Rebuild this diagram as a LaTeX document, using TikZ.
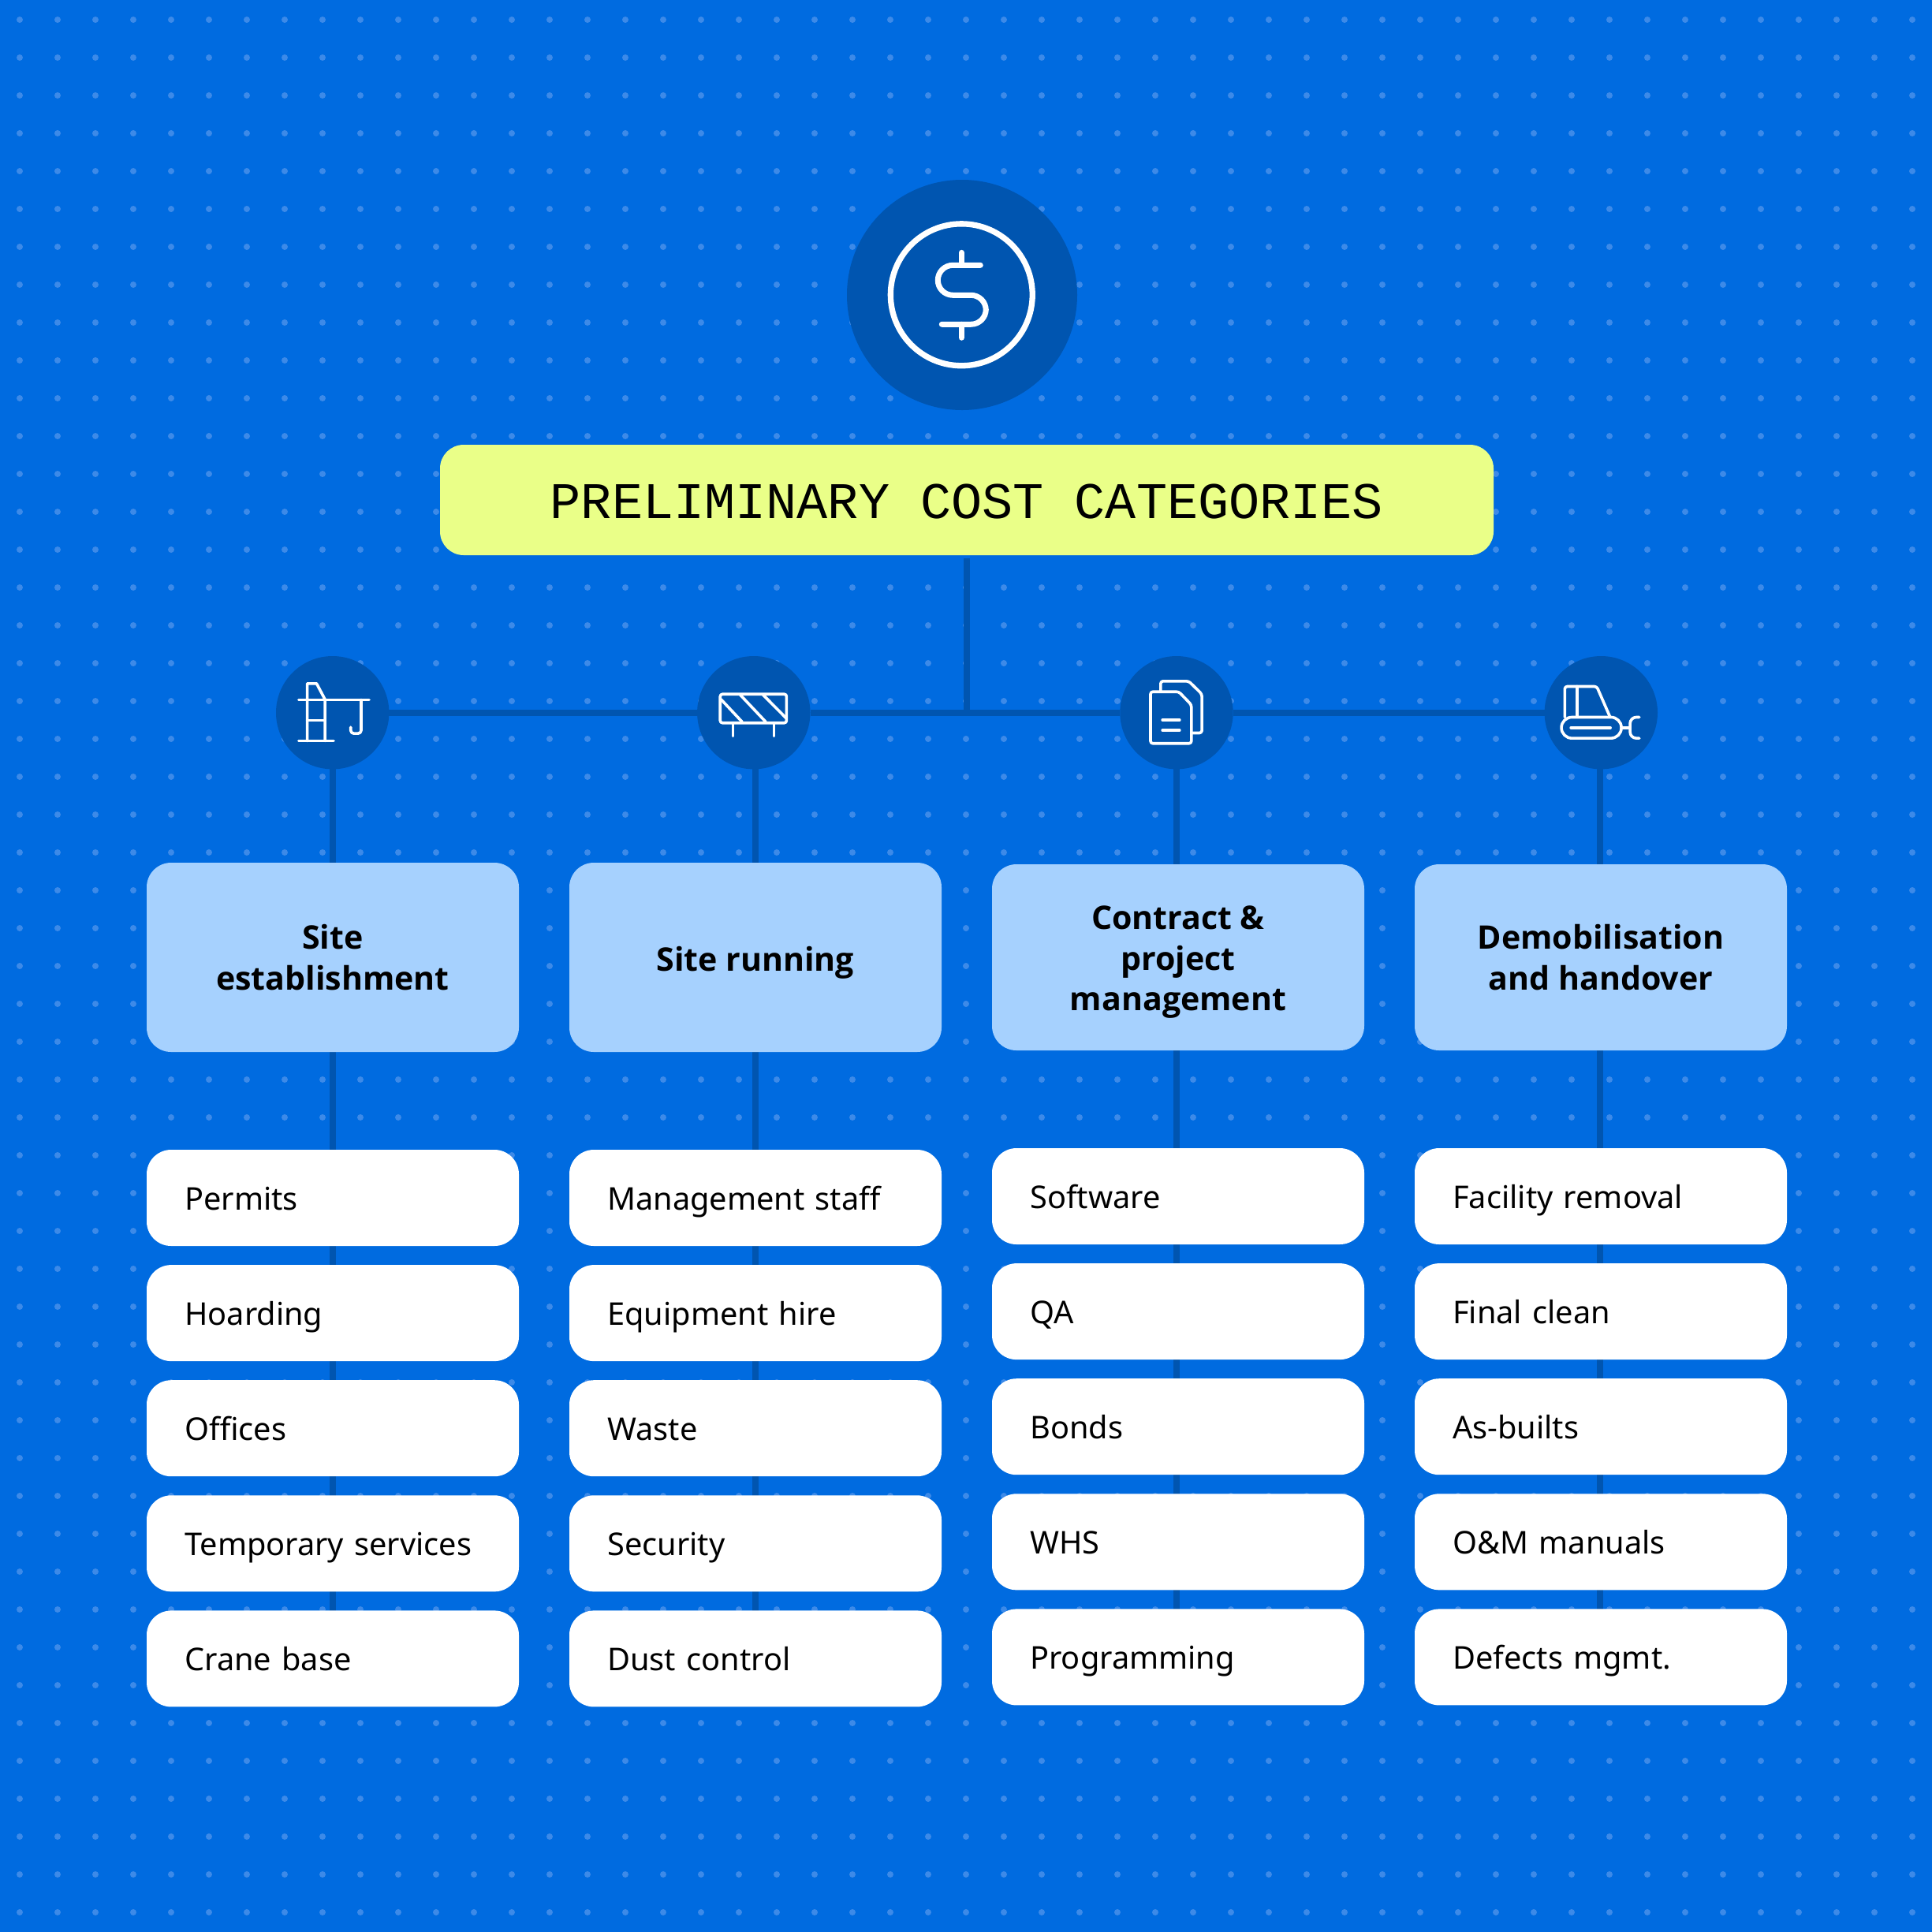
\documentclass[tikz,border=0pt]{standalone}
\usepackage{fontspec}
\setmainfont{Noto Sans}
\setmonofont{Liberation Mono}
\newfontfamily\headfont{Open Sans}
\usetikzlibrary{positioning, backgrounds}
\definecolor{sky}{HTML}{006BE0}
\definecolor{deep}{HTML}{0055B0}
\definecolor{speck}{HTML}{3D8AE8}
\definecolor{pale}{HTML}{A6D1FE}
\definecolor{lime}{HTML}{EAFF88}
\newcommand{\catstrut}{\rule[-0.1cm]{0pt}{0.54cm}}
\newcommand{\catlift}{\rule{0pt}{0.42cm}}
\tikzstyle{Title} = [rectangle, rounded corners=0.3cm, fill=lime, outer sep=0pt, minimum width=13.36cm,
                     minimum height=1.4cm, inner sep=0pt, text height=0.46cm, text depth=0pt,
                     font=\ttfamily\fontsize{18.55}{22}\selectfont]
\tikzstyle{Badge} = [circle, fill=deep, outer sep=0pt, minimum size=1.434cm, inner sep=0pt]
\tikzstyle{Category} = [rectangle, rounded corners=0.31cm, fill=pale, outer sep=0pt, minimum width=4.72cm,
                        align=center, inner sep=0pt, font=\headfont\bfseries\fontsize{11.7}{14.7}\selectfont]
\tikzstyle{Item} = [rectangle, rounded corners=0.31cm, fill=white, outer sep=0pt, minimum width=4.72cm,
                    minimum height=1.22cm, text width=3.754cm, inner xsep=0.483cm, inner ysep=0pt,
                    align=left, text height=0.45cm, text depth=0.14cm,
                    font=\fontsize{11.3}{14}\selectfont]
\tikzstyle{Link} = [draw=deep, line width=0.08cm]
\tikzstyle{Glyph} = [draw=white, line width=0.036cm, line cap=round, line join=round]

\begin{document}
\begin{tikzpicture}
    [node distance = 0.241cm]

    %% Background
    \useasboundingbox (0,0) rectangle (24.5,-24.5);
    \begin{pgfonlayer}{background}
        \fill [sky] (0,0) rectangle (24.5,-24.5);
        \foreach \px in {0,...,50} {
            \foreach \py in {0,...,50} {
                \fill [speck] (0.25+0.48*\px,-0.25-0.48*\py) circle (0.04);
            }
        }
    \end{pgfonlayer}

    %% Head
    \node [Badge, minimum size=2.92cm] (dollar) at (12.2,-3.74) {};
    \node [Title] (title) at (12.26,-6.34) {PRELIMINARY COST CATEGORIES};
    \coordinate (hub) at (12.26,-9.037);

    %% Icons
    \node [Badge] (crane) at (4.217,-9.037) {};
    \node [Badge] (barrier) at (9.558,-9.037) {};
    \node [Badge] (papers) at (14.92,-9.037) {};
    \node [Badge] (dozer) at (20.303,-9.037) {};

    %% Categories
    \node [Category, minimum height=2.4cm] (site) at (4.22,-12.14) {Site\\establishment};
    \node [Category, minimum height=2.4cm, right=0.64cm of site] (running) {\catstrut Site running};
    \node [Category, minimum height=2.36cm, right=0.64cm of running] (contract) {\catlift Contract \&\\project\\management};
    \node [Category, minimum height=2.36cm, right=0.64cm of contract] (demob) {Demobilisation\\and handover};

    %% Site establishment
    \node [Item, below=1.24cm of site] (permits) {Permits};
    \node [Item, below= of permits] (hoarding) {Hoarding};
    \node [Item, below= of hoarding] (offices) {Offices};
    \node [Item, below= of offices] (temporary) {Temporary services};
    \node [Item, below= of temporary] (cranebase) {Crane base};

    %% Site running
    \node [Item, below=1.24cm of running] (staff) {Management staff};
    \node [Item, below= of staff] (hire) {Equipment hire};
    \node [Item, below= of hire] (waste) {Waste};
    \node [Item, below= of waste] (security) {Security};
    \node [Item, below= of security] (dust) {Dust control};

    %% Contract and project management
    \node [Item, below=1.24cm of contract] (software) {Software};
    \node [Item, below= of software] (qa) {QA};
    \node [Item, below= of qa] (bonds) {Bonds};
    \node [Item, below= of bonds] (whs) {WHS};
    \node [Item, below= of whs] (programming) {Programming};

    %% Demobilisation and handover
    \node [Item, below=1.24cm of demob] (removal) {Facility removal};
    \node [Item, below= of removal] (clean) {Final clean};
    \node [Item, below= of clean] (asbuilts) {As-builts};
    \node [Item, below= of asbuilts] (manuals) {O\&M manuals};
    \node [Item, below= of manuals] (defects) {Defects mgmt.};

    %% Draw
    \begin{pgfonlayer}{background}
        \draw [Link, shorten <=0.04cm] (title) -- (hub);
        \draw [Link] (crane) -- (barrier) -- (papers) -- (dozer);
        \draw [Link] (crane) -- (crane |- cranebase);
        \draw [Link] ([xshift=0.02cm]barrier.center) -- ([xshift=0.02cm]barrier |- dust);
        \draw [Link] (papers) -- (papers |- programming);
        \draw [Link] ([xshift=-0.013cm]dozer.center) -- ([xshift=-0.013cm]dozer |- defects);
    \end{pgfonlayer}

    %% Glyphs
    \begin{scope}[x=0.01cm, y=-0.01cm]
        % dollar
        \draw [Glyph, line width=0.073cm] (1220,374) circle (90);
        \draw [Glyph, line width=0.07cm] (1220,320.5) -- (1220,336.5);
        \draw [Glyph, line width=0.07cm] (1220,411.5) -- (1220,428.5);
        \draw [Glyph, line width=0.07cm, rounded corners=0.19cm] (1244,336.5) -- (1190,336.5) -- (1190,374.5)
            -- (1251,374.5) -- (1251,411.5) -- (1195,411.5);
        % crane
        \draw [Glyph] (379,940) -- (423.3,940);
        \draw [Glyph] (389.8,940) -- (389.8,867.3) -- (401.7,867.3) -- (412.3,887.3) -- (412.3,940);
        \draw [Glyph] (389.8,914) -- (412.3,914);
        \draw [Glyph] (379,888) -- (468.3,888);
        \draw [Glyph, rounded corners=0.04cm] (458.3,888) -- (458.3,930.7) -- (445,930.7) -- (445,922.7);
        % barrier
        \draw [Glyph, rounded corners=0.03cm] (913.8,880.7) rectangle (998,917.3);
        \draw [Glyph] (914.8,887.3) -- (941.7,916);
        \draw [Glyph] (939.3,881.7) -- (971.7,916);
        \draw [Glyph] (968.3,881.7) -- (998,911.7);
        \draw [Glyph] (930,917.3) -- (930,934);
        \draw [Glyph] (982,917.3) -- (982,934);
        % papers
        \draw [Glyph, rounded corners=0.03cm] (1459.8,877.7) -- (1495.7,877.7) -- (1511.7,894.3) -- (1511.7,943.3)
            -- (1459.8,943.3) -- cycle;
        \draw [Glyph, rounded corners=0.03cm] (1472.7,876.7) -- (1472.7,864.3) -- (1508.3,864.3) -- (1525,880.7)
            -- (1525,930) -- (1512.7,930);
        \draw [Glyph] (1475,913.7) -- (1496.7,913.7);
        \draw [Glyph] (1475,926.7) -- (1496.7,926.7);
        % dozer
        \draw [Glyph, rounded corners=0.03cm] (1985.5,910) -- (1985.5,871) -- (2026,871) -- (2042.7,909.3);
        \draw [Glyph] (2001,871) -- (2001,909.3);
        \draw [Glyph, rounded corners=0.133cm] (1981.2,910) rectangle (2057.3,936.7);
        \draw [Glyph] (1993.3,923.3) -- (2043.3,923.3);
        \draw [Glyph] (2057.3,923.3) -- (2068.3,923.3);
        \draw [Glyph, rounded corners=0.08cm] (2080,910) -- (2068.3,910) -- (2068.3,936.7) -- (2080,936.7);
    \end{scope}

\end{tikzpicture}
\end{document}
